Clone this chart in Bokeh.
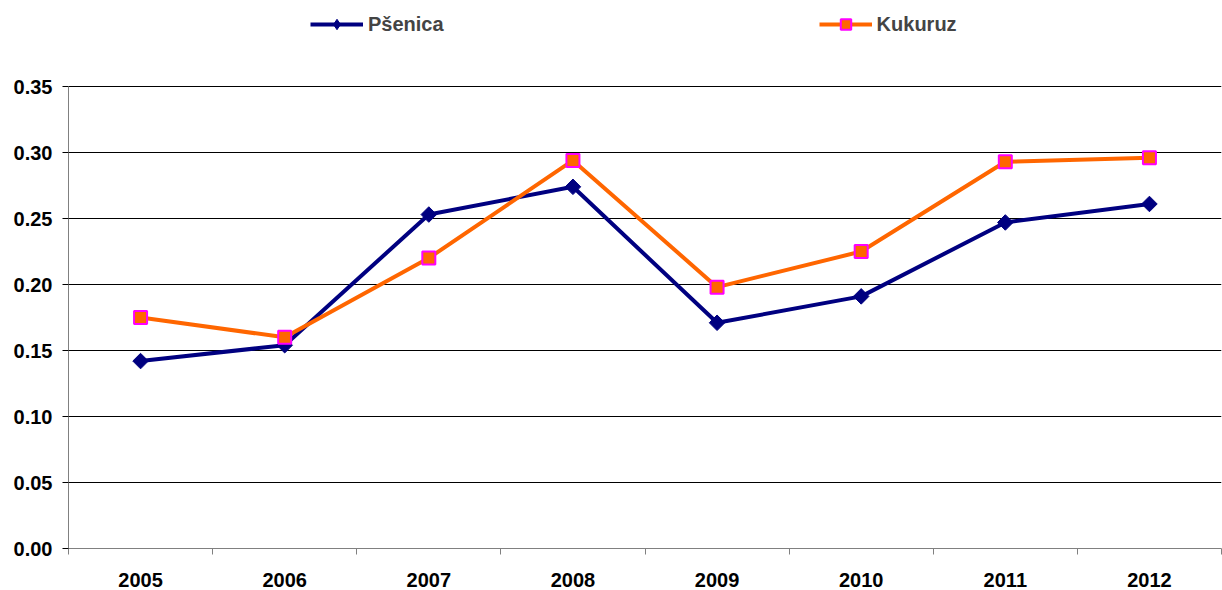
import math
from bokeh.plotting import figure
from bokeh.models import (Range1d, FixedTicker, NumeralTickFormatter, Legend, LegendItem,
                          ColumnDataSource)
from bokeh.embed import file_html
from bokeh.resources import INLINE

years = ["2005", "2006", "2007", "2008", "2009", "2010", "2011", "2012"]
psenica = [0.142, 0.154, 0.253, 0.274, 0.171, 0.191, 0.247, 0.261]
kukuruz = [0.175, 0.160, 0.220, 0.294, 0.198, 0.225, 0.293, 0.296]
y_ticks = [0.0, 0.05, 0.10, 0.15, 0.20, 0.25, 0.30, 0.35]

xs = [i + 0.5 for i in range(len(years))]
src = ColumnDataSource(dict(x=xs, p=psenica, k=kukuruz))

FONT = "Liberation Sans"
Y_MAX = 0.35
# frame extends up to the top of the figure so that the legend (drawn in the frame) is visible;
# axis and grid are bounded to 0..0.35
TOP_PAD = 86
FRAME_H = 590 - 42

p = figure(width=1222, height=590, x_range=Range1d(0, len(years)),
           y_range=Range1d(0, Y_MAX * FRAME_H / (FRAME_H - TOP_PAD)),
           output_backend="svg", toolbar_location=None,
           min_border_left=68, min_border_right=1, min_border_top=0, min_border_bottom=42)
p.outline_line_color = None
p.xgrid.grid_line_color = None
p.ygrid.grid_line_color = "black"
p.ygrid.grid_line_width = 1
p.ygrid.bounds = (0, Y_MAX)

# y axis
p.yaxis.ticker = FixedTicker(ticks=y_ticks)
p.yaxis.bounds = (0, Y_MAX)
p.yaxis.formatter = NumeralTickFormatter(format="0.00")
p.yaxis.axis_line_color = "#808080"
p.yaxis.major_tick_line_color = "black"
p.yaxis.major_tick_out = 6
p.yaxis.major_tick_in = 0
p.yaxis.minor_tick_line_color = None
p.yaxis.major_label_standoff = 10
p.yaxis.major_label_text_font = FONT
p.yaxis.major_label_text_font_style = "bold"
p.yaxis.major_label_text_font_size = "20px"
p.yaxis.major_label_text_color = "black"

# x axis: labels at category centers, ticks at category boundaries
p.xaxis.ticker = FixedTicker(ticks=xs, minor_ticks=list(range(len(years) + 1)))
p.xaxis.major_label_overrides = {x: y for x, y in zip(xs, years)}
p.xaxis.axis_line_color = "#808080"
p.xaxis.major_tick_line_color = None
p.xaxis.minor_tick_line_color = "#808080"
p.xaxis.minor_tick_out = 6
p.xaxis.minor_tick_in = 0
p.xaxis.major_label_standoff = 18
p.xaxis.major_label_text_font = FONT
p.xaxis.major_label_text_font_style = "bold"
p.xaxis.major_label_text_font_size = "20px"
p.xaxis.major_label_text_color = "black"

lp = p.line("x", "p", source=src, line_color="#000080", line_width=4)
mp = p.scatter("x", "p", source=src, marker="square", angle=math.pi / 4, size=11,
               fill_color="#000080", line_color="#000080")
# legend-only diamond (zero size in the plot itself)
mp_leg = p.scatter("x", "p", source=src, marker="diamond", size=0,
                   fill_color="#000080", line_color="#000080")
lk = p.line("x", "k", source=src, line_color="#FF6600", line_width=4)
mk = p.scatter("x", "k", source=src, marker="square", size=13, fill_color="#FF6600",
               line_color="#FF00FF", line_width=2)

legend = Legend(items=[LegendItem(label="Pšenica", renderers=[lp, mp_leg]),
                       LegendItem(label="Kukuruz", renderers=[lk, mk])],
                orientation="horizontal", location=(242, FRAME_H - 37), spacing=375,
                glyph_width=53, glyph_height=26, label_standoff=5,
                label_text_font=FONT, label_text_font_style="bold", label_text_font_size="20px",
                border_line_color=None, background_fill_alpha=0, padding=0, margin=0)
p.add_layout(legend, "center")

open("out.html", "w").write(file_html(p, INLINE))
